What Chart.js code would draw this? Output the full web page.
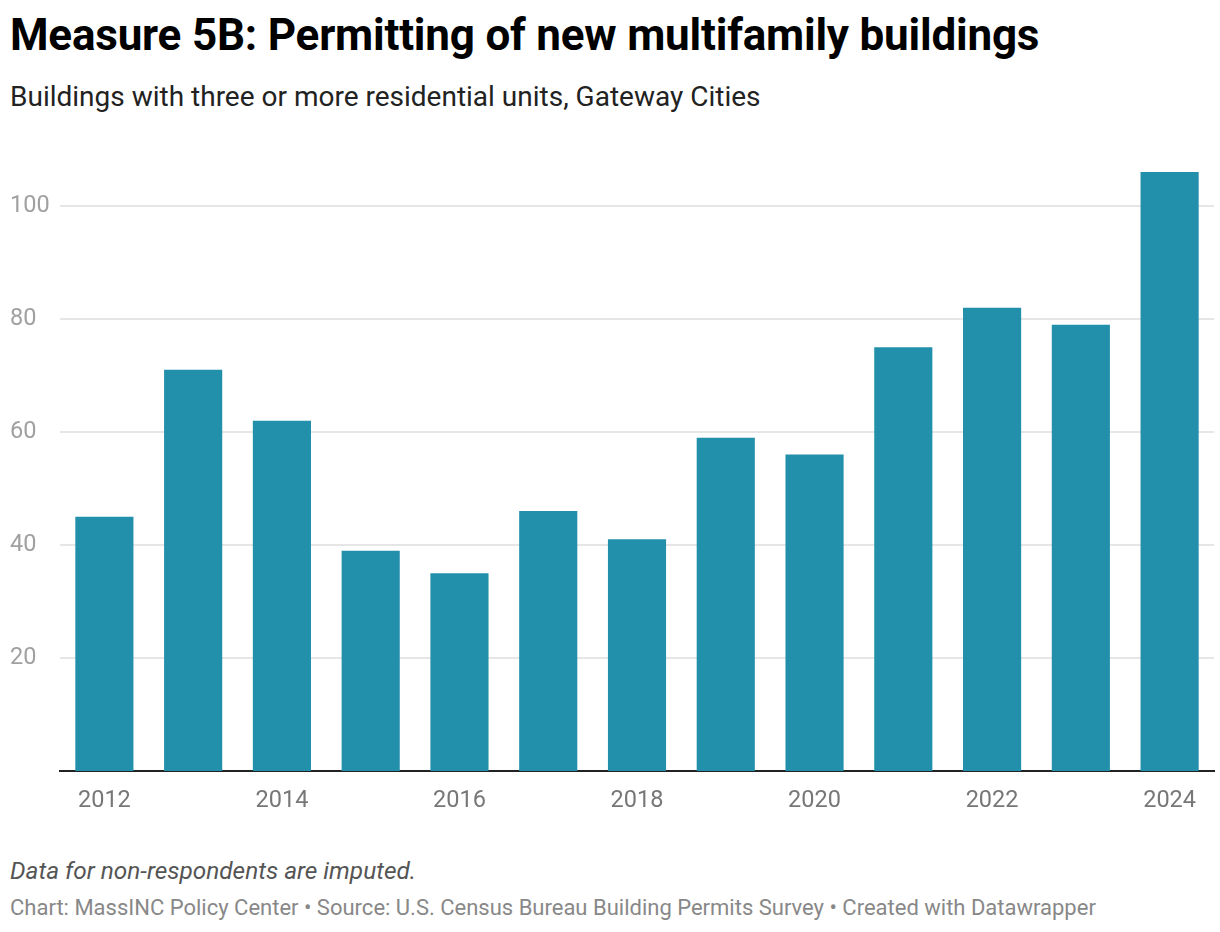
<!DOCTYPE html>
<html>
<head>
<meta charset="utf-8">
<script src="https://cdn.jsdelivr.net/npm/chart.js@4"></script>
<style>
  body { margin: 0; background: #fff; font-family: Roboto, sans-serif; }
  .wrap { position: relative; width: 1220px; height: 932px; }
  h1 { position: absolute; left: 10px; top: 9px; margin: 0; font-size: 44px; font-weight: 700; color: #000; letter-spacing: -0.2px; line-height: 1.2; }
  .sub { position: absolute; left: 10px; top: 80px; font-size: 28px; color: #222; line-height: 1.2; }
  .box { position: absolute; left: 0; top: 150px; width: 1220px; height: 671px; }
  .note { position: absolute; left: 10px; top: 856px; font-size: 24.4px; font-style: italic; color: #555; line-height: 1.2; }
  .src { position: absolute; left: 10px; top: 895px; font-size: 22px; color: #888; line-height: 1.2; }
</style>
</head>
<body>
<div class="wrap">
  <h1>Measure 5B: Permitting of new multifamily buildings</h1>
  <div class="sub">Buildings with three or more residential units, Gateway Cities</div>
  <div class="box"><canvas id="c"></canvas></div>
  <div class="note">Data for non-respondents are imputed.</div>
  <div class="src">Chart: MassINC Policy Center • Source: U.S. Census Bureau Building Permits Survey • Created with Datawrapper</div>
</div>
<script>
const years = ['2012','2013','2014','2015','2016','2017','2018','2019','2020','2021','2022','2023','2024'];
const buildings = [45, 71, 62, 39, 35, 46, 41, 59, 56, 75, 82, 79, 106];
const yTicks = [20, 40, 60, 80, 100];

new Chart(document.getElementById('c'), {
  type: 'bar',
  data: {
    labels: years,
    datasets: [{
      label: 'Buildings',
      data: buildings,
      backgroundColor: '#2390ab',
      categoryPercentage: 1,
      barPercentage: 0.655
    }]
  },
  options: {
    responsive: true,
    maintainAspectRatio: false,
    animation: false,
    layout: { padding: { top: 22, left: 10, right: 6 } },
    plugins: { legend: { display: false }, tooltip: { enabled: false } },
    scales: {
      x: {
        grid: { display: false },
        border: { color: '#222', width: 2 },
        ticks: {
          autoSkip: false,
          maxRotation: 0,
          color: '#777',
          font: { family: 'Roboto', size: 23.5 },
          padding: 8,
          callback: (v, i) => (i % 2 === 0 ? years[i] : '')
        },
        afterFit: s => { s.height = 50; }
      },
      y: {
        min: 0,
        max: 106,
        border: { display: false },
        grid: { color: '#e6e6e6', lineWidth: 2, drawTicks: false },
        afterBuildTicks: s => { s.ticks = yTicks.map(v => ({ value: v })); },
        ticks: {
          color: '#a0a0a0',
          font: { family: 'Roboto', size: 23.5 },
          crossAlign: 'far',
          padding: 8
        },
        afterFit: s => { s.width = 50; }
      }
    }
  }
});
</script>
</body>
</html>
